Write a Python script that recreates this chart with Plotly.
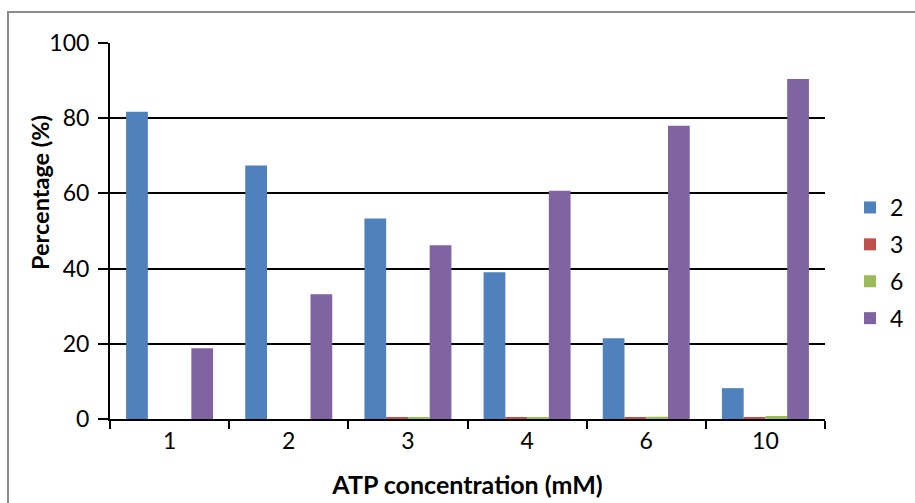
import plotly.graph_objects as go

categories = ["1", "2", "3", "4", "6", "10"]
series_names = ["2", "3", "6", "4"]
s2 = [81.7, 67.4, 53.3, 39.0, 21.5, 8.2]
s3 = [0.0, 0.0, 0.3, 0.3, 0.3, 0.3]
s6 = [0.0, 0.0, 0.3, 0.3, 0.6, 0.8]
s4 = [18.8, 33.2, 46.2, 60.7, 78.0, 90.4]
colors = ["#4F81BD", "#C0504D", "#9BBB59", "#8064A2"]
y_ticks = [0, 20, 40, 60, 80, 100]

FONT = "Lato, Carlito, Calibri, sans-serif"

fig = go.Figure()
for i, (name, vals) in enumerate(zip(series_names, [s2, s3, s6, s4])):
    fig.add_trace(go.Bar(x=categories, y=vals, name=name,
                         marker=dict(color=colors[i], line=dict(width=0)),
                         legendgroup=name))

L, R, T, B = 110, 90, 43, 84
W, H = 915, 503
pw, ph = W - L - R, H - T - B

fig.update_layout(
    width=W, height=H,
    margin=dict(l=L, r=R, t=T, b=B, autoexpand=False),
    paper_bgcolor="white", plot_bgcolor="white",
    font=dict(family=FONT, size=23, color="black"),
    barmode="group", bargap=0.27, bargroupgap=0,
    showlegend=True,
    legend=dict(x=1.035, y=(419 - 263) / ph, xanchor="left", yanchor="middle",
                traceorder="grouped", tracegroupgap=4,
                font=dict(size=23), itemwidth=30, bgcolor="rgba(0,0,0,0)"),
    xaxis=dict(type="category", showline=True, linecolor="black", linewidth=2,
               ticks="outside", tickson="boundaries", ticklen=8, tickwidth=2,
               tickcolor="black", showgrid=False, ticklabelstandoff=0,
               automargin=False,
               title=dict(text="<b>ATP concentration (mM)</b>", standoff=24,
                          font=dict(size=25))),
    yaxis=dict(range=[0, 100], tickvals=y_ticks, showline=True, linecolor="black",
               linewidth=2, ticks="outside", ticklen=10, tickwidth=2,
               tickcolor="black", showgrid=True, gridcolor="black", gridwidth=2,
               zeroline=False, ticklabelstandoff=4, automargin=False),
    annotations=[dict(text="<b>Percentage (%)</b>", xref="paper", yref="paper",
                      x=(40 - L) / pw, y=(419 - 193) / ph, textangle=-90,
                      showarrow=False, xanchor="center", yanchor="middle",
                      font=dict(size=23.5))],
    shapes=[dict(type="rect", xref="paper", yref="paper",
                 x0=(8 - L) / pw, x1=(W + 20 - L) / pw,
                 y0=-(B + 20) / ph, y1=(H - B - 12) / ph,
                 line=dict(color="#8c8c8c", width=2), fillcolor="rgba(0,0,0,0)",
                 layer="below")],
)

fig.write_html("out.html")
